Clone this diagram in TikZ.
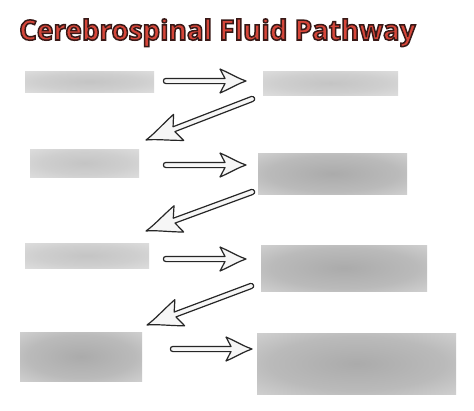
\documentclass[tikz,border=0pt]{standalone}
\usepackage{fontspec}
\setmainfont{Open Sans}
\usetikzlibrary{calc}
\definecolor{titlered}{RGB}{214,70,58}
\definecolor{arrowfill}{RGB}{246,246,246}
\pgfdeclareradialshading{blurlight}{\pgfpoint{0bp}{0bp}}{color(0bp)=(black!23); color(20bp)=(black!19); color(40bp)=(black!12); color(50bp)=(black!8)}
\pgfdeclareradialshading{blurdark}{\pgfpoint{0bp}{0bp}}{color(0bp)=(black!33); color(22bp)=(black!27); color(40bp)=(black!16); color(50bp)=(black!9)}
\tikzset{
  lightbox/.style={inner sep=0pt, outer sep=0pt, anchor=north west, shade, shading=blurlight},
  darkbox/.style={lightbox, shading=blurdark},
  arrowbody/.style={draw=black!85, line width=1.2pt, fill=arrowfill, line join=round},
}
\newcommand\blockarrow[4]{%
  \path let \p1=($(#2)-(#1)$) in \pgfextra{%
     \pgfmathsetmacro\tmpang{atan2(\y1,\x1)}%
     \pgfmathsetmacro\tmplen{veclen(\x1,\y1)}%
     \xdef\baang{\tmpang}\xdef\balen{\tmplen}};
  \begin{scope}[shift={(#1)}, rotate=\baang]
    \def\baL{\balen}\def\bah{#3}\def\baH{#4}\def\baw{2.6}
    \draw[arrowbody] (0,\baw) .. controls (-3.5,\baw) and (-3.5,-\baw) .. (0,-\baw)
      -- ({\baL-\bah+4},-\baw)
      .. controls ({\baL-\bah+2},{-0.6*\baH}) .. ({\baL-\bah-1},{-\baH})
      .. controls ({\baL-0.55*\bah},{-0.55*\baH}) and ({\baL-0.3*\bah},{-0.2*\baH}) .. (\baL,0)
      .. controls ({\baL-0.3*\bah},{0.2*\baH}) and ({\baL-0.55*\bah},{0.55*\baH}) .. ({\baL-\bah-1},{\baH})
      .. controls ({\baL-\bah+2},{0.6*\baH}) .. ({\baL-\bah+4},\baw)
      -- cycle;
  \end{scope}}
\begin{document}
\begin{tikzpicture}[x=1pt,y=-1pt]
\useasboundingbox[fill=white] (0,0) rectangle (474,410);
% label placeholders
\node[lightbox, minimum width=129pt, minimum height=21pt] (b1) at (25,71) {};
\node[lightbox, minimum width=135pt, minimum height=24pt] (b2) at (263,71) {};
\node[lightbox, minimum width=109pt, minimum height=28pt] (b3) at (30,149) {};
\node[darkbox, minimum width=149pt, minimum height=41pt] (b4) at (258,153) {};
\node[lightbox, minimum width=124pt, minimum height=25pt] (b5) at (25,243) {};
\node[darkbox, minimum width=166pt, minimum height=46pt] (b6) at (261,245) {};
\node[darkbox, minimum width=122pt, minimum height=49pt] (b7) at (20,332) {};
\node[darkbox, minimum width=199pt, minimum height=61pt] (b8) at (257,333) {};
% arrow ends
\coordinate (a1s) at (166,81);  \coordinate (a1t) at (246,81);
\coordinate (d1s) at (252,99);  \coordinate (d1t) at (146,140);
\coordinate (a2s) at (166,165); \coordinate (a2t) at (246,165);
\coordinate (d2s) at (252,192); \coordinate (d2t) at (146,231);
\coordinate (a3s) at (166,259); \coordinate (a3t) at (246,259);
\coordinate (d3s) at (251,286); \coordinate (d3t) at (147,325);
\coordinate (a4s) at (173,349); \coordinate (a4t) at (252,349);
\blockarrow{a1s}{a1t}{25}{12}
\blockarrow{d1s}{d1t}{34}{14}
\blockarrow{a2s}{a2t}{25}{12}
\blockarrow{d2s}{d2t}{34}{14}
\blockarrow{a3s}{a3t}{25}{12}
\blockarrow{d3s}{d3t}{34}{14}
\blockarrow{a4s}{a4t}{25}{12}
% title
\node[anchor=base west, inner sep=0pt, text=titlered, font=\fontsize{27.8}{30}\selectfont\bfseries] (title) at (19,40)
  {\special{pdf:literal direct 2 Tr 1.5 w 0.22 0.1 0.09 RG}Cerebrospinal Fluid Pathway\special{pdf:literal direct 0 Tr}};
\end{tikzpicture}
\end{document}
